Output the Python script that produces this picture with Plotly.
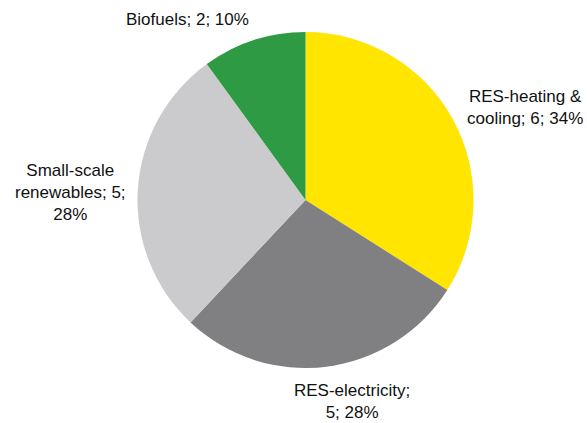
import plotly.graph_objects as go

# slice data
categories = ["RES-heating & cooling", "RES-electricity", "Small-scale renewables", "Biofuels"]
counts = [6, 5, 5, 2]
shares = [34, 28, 28, 10]
colors = ["#FFE500", "#808083", "#CBCBCD", "#2E9A43"]

W, H = 587, 423
L, R, T, B = 24, 0, 32, 55

def px2paper(x, y):
    return (x - L) / (W - L - R), 1 - (y - T) / (H - T - B)

labels_txt = [
    f"RES-heating &<br>cooling; {counts[0]}; {shares[0]}%",
    f"RES-electricity;<br>{counts[1]}; {shares[1]}%",
    f"Small-scale<br>renewables; {counts[2]};<br>{shares[2]}%",
    f"Biofuels; {counts[3]}; {shares[3]}%",
]
label_pos = [(525, 107), (352, 401), (70, 192), (187, 20)]

fig = go.Figure(go.Pie(
    labels=categories,
    values=shares,
    sort=False,
    direction="clockwise",
    rotation=0,
    marker=dict(colors=colors, line=dict(width=0)),
    textinfo="none",
    hoverinfo="label+value",
    showlegend=False,
))

annotations = []
for txt, (x, y) in zip(labels_txt, label_pos):
    ax, ay = px2paper(x, y)
    annotations.append(dict(
        x=ax, y=ay, xref="paper", yref="paper", text=txt, showarrow=False,
        xanchor="center", yanchor="middle", align="center",
        font=dict(family="Liberation Sans Narrow, Liberation Sans, Arial", size=17, color="#111111"),
    ))

fig.update_layout(
    width=W, height=H,
    margin=dict(l=L, r=R, t=T, b=B),
    paper_bgcolor="white",
    plot_bgcolor="white",
    annotations=annotations,
)

fig.write_html("out.html", config={"displayModeBar": False},
               post_script="document.body.style.margin='0';")
